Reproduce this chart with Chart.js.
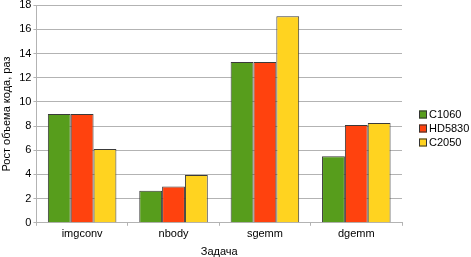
<!DOCTYPE html>
<html lang="ru">
<head>
    <meta charset="UTF-8">
    <title>Рост объема кода</title>
    <script src="https://cdn.jsdelivr.net/npm/chart.js"></script>
    <style>
        html, body { margin: 0; padding: 0; background: #fff; }
        #wrap { width: 471px; height: 257px; }
    </style>
</head>
<body>
    <div id="wrap"><canvas id="chart" width="471" height="257"></canvas></div>

    <script>
        const categories = ['imgconv', 'nbody', 'sgemm', 'dgemm'];
        const seriesNames = ['C1060', 'HD5830', 'C2050'];
        const c1060 = [9.0, 2.65, 13.3, 5.5];
        const hd5830 = [9.0, 3.0, 13.3, 8.1];
        const c2050 = [6.1, 3.95, 17.1, 8.25];
        const colors = ['#579d1c', '#ff420e', '#ffd320'];

        const FONT = '"Liberation Sans", Arial, sans-serif';
        const GRID = '#b3b3b3';

        // legend drawn by hand to sit where the original one is
        const sideLegend = {
            id: 'sideLegend',
            afterDraw(chart) {
                const ctx = chart.ctx;
                const x = chart.chartArea.right + 17;
                const y0 = chart.height / 2 - 14;
                ctx.save();
                ctx.font = '11px ' + FONT;
                ctx.textBaseline = 'middle';
                ctx.textAlign = 'left';
                chart.data.datasets.forEach((ds, i) => {
                    const y = y0 + i * 14;
                    ctx.fillStyle = ds.backgroundColor;
                    ctx.fillRect(x, y - 4, 8, 8);
                    ctx.strokeStyle = '#333';
                    ctx.lineWidth = 1;
                    ctx.strokeRect(x + 0.5, y - 3.5, 7, 7);
                    ctx.fillStyle = '#000';
                    ctx.fillText(ds.label, x + 10, y);
                });
                ctx.restore();
            }
        };

        const values = [c1060, hd5830, c2050];

        new Chart(document.getElementById('chart'), {
            type: 'bar',
            data: {
                labels: categories,
                datasets: seriesNames.map((name, i) => ({
                    label: name,
                    data: values[i],
                    backgroundColor: colors[i],
                    borderColor: '#3a3a3a',
                    borderWidth: 1,
                    categoryPercentage: 0.75,
                    barPercentage: 1.0
                }))
            },
            options: {
                responsive: false,
                animation: false,
                layout: { padding: { left: 0, right: 69, top: 0, bottom: 0 } },
                plugins: {
                    legend: { display: false },
                    tooltip: { enabled: false }
                },
                scales: {
                    x: {
                        grid: {
                            offset: true,
                            color: (c) => (c.index === 0 || c.index === categories.length) ? GRID : 'transparent',
                            tickColor: GRID,
                            tickLength: 3
                        },
                        border: { color: GRID },
                        ticks: { color: '#000', padding: 2, font: { family: FONT, size: 11 } },
                        title: {
                            display: true,
                            text: 'Задача',
                            color: '#000',
                            padding: { top: 3, bottom: 0 },
                            font: { family: FONT, size: 11, lineHeight: 1.0 }
                        }
                    },
                    y: {
                        min: 0,
                        max: 18,
                        grid: { color: GRID, tickColor: GRID, tickLength: 3 },
                        border: { color: GRID },
                        ticks: {
                            stepSize: 2,
                            color: '#000',
                            padding: 2,
                            font: { family: FONT, size: 11, lineHeight: 0.6 }
                        },
                        title: {
                            display: true,
                            text: 'Рост объема кода, раз',
                            color: '#000',
                            padding: { top: 0, bottom: 4 },
                            font: { family: FONT, size: 11 }
                        }
                    }
                }
            },
            plugins: [sideLegend]
        });
    </script>
</body>
</html>
